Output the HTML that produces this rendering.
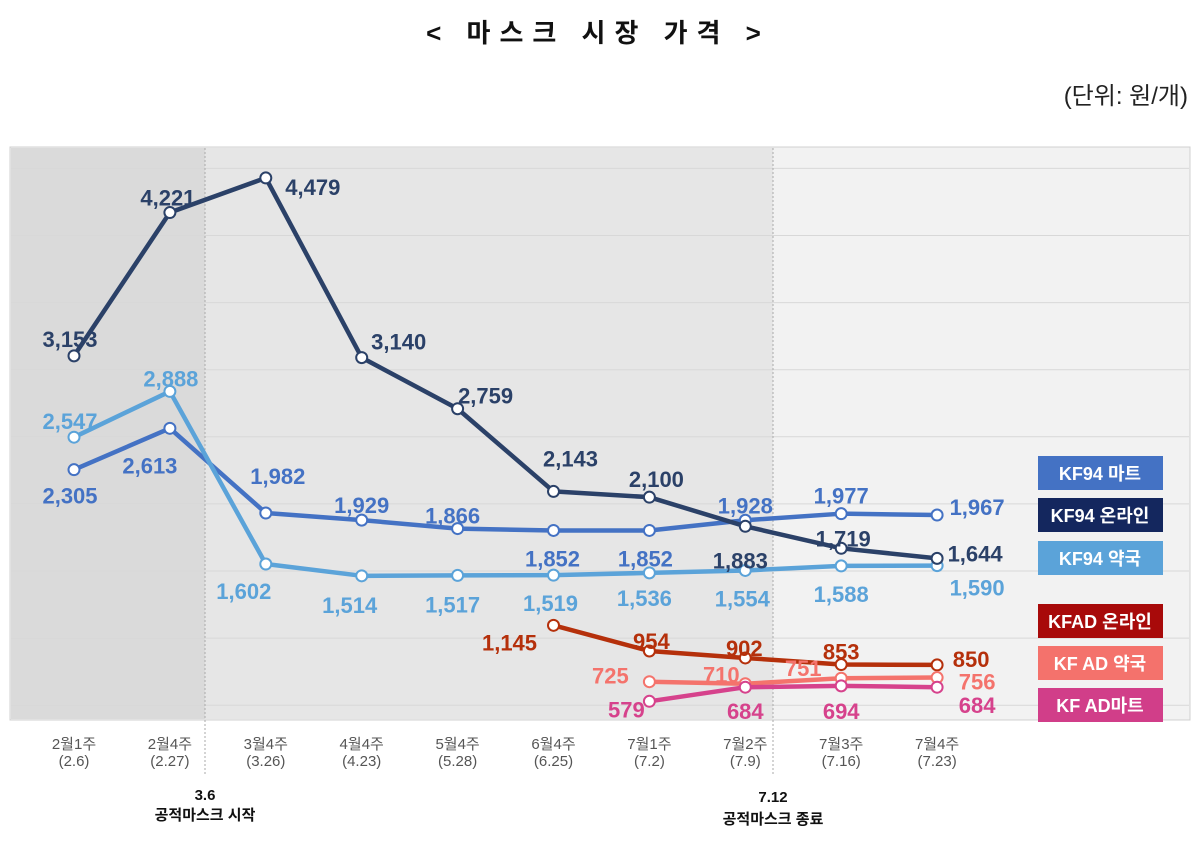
<!DOCTYPE html>
<html><head><meta charset="utf-8">
<style>
body{margin:0;background:#fff;width:1199px;height:845px;overflow:hidden;font-family:"Liberation Sans","Noto Sans CJK KR",sans-serif;}
svg text{font-family:"Liberation Sans","Noto Sans CJK KR",sans-serif;}
</style></head>
<body>
<svg id="chart" width="1199" height="845" xmlns="http://www.w3.org/2000/svg">
<text x="598" y="42" text-anchor="middle" font-size="26" font-weight="bold" letter-spacing="9" fill="#111">&lt; 마스크 시장 가격 &gt;</text>
<text x="1188" y="104" text-anchor="end" font-size="24" fill="#222">(단위: 원/개)</text>
<rect x="10" y="147" width="1180" height="573" fill="#f2f2f2" stroke="#d0d0d0"/>
<rect x="11" y="148" width="194" height="571" fill="#dadada"/>
<rect x="205" y="148" width="568" height="571" fill="#e6e6e6"/>
<g id="grid"></g>
<line x1="205" y1="148" x2="205" y2="775" stroke="#aaa" stroke-dasharray="2,2"/>
<line x1="773" y1="148" x2="773" y2="775" stroke="#aaa" stroke-dasharray="2,2"/>
<g id="series"></g>
<g id="xlabels"></g>
<text x="205" y="800" text-anchor="middle" font-size="15" font-weight="bold" fill="#111">3.6</text>
<text x="205" y="820" text-anchor="middle" font-size="15" font-weight="bold" fill="#111">공적마스크 시작</text>
<text x="773" y="802" text-anchor="middle" font-size="15" font-weight="bold" fill="#111">7.12</text>
<text x="773" y="824" text-anchor="middle" font-size="15" font-weight="bold" fill="#111">공적마스크 종료</text>
<g id="legend"></g>
</svg>
<script>
const categories=["2월1주","2월4주","3월4주","4월4주","5월4주","6월4주","7월1주","7월2주","7월3주","7월4주"];
const dates=["(2.6)","(2.27)","(3.26)","(4.23)","(5.28)","(6.25)","(7.2)","(7.9)","(7.16)","(7.23)"];
const kf94Online=[3153,4221,4479,3140,2759,2143,2100,1883,1719,1644];
const kf94Mart=[2305,2613,1982,1929,1866,1852,1852,1928,1977,1967];
const kf94Pharmacy=[2547,2888,1602,1514,1517,1519,1536,1554,1588,1590];
const kfadOnline=[null,null,null,null,null,1145,954,902,853,850];
const kfadPharmacy=[null,null,null,null,null,null,725,710,751,756];
const kfadMart=[null,null,null,null,null,null,579,684,694,684];
const gridValues=[550,1050,1550,2050,2550,3050,3550,4050,4550];

const NS="http://www.w3.org/2000/svg";
function xScale(i){return 74+i*95.9;}
function yScale(v){return 779-0.1342*v;}
function mk(tag,attrs,parent){const e=document.createElementNS(NS,tag);for(const k in attrs)e.setAttribute(k,attrs[k]);parent.appendChild(e);return e;}

const grid=document.getElementById('grid');
gridValues.forEach(v=>{
  const l=mk('line',{x1:11,x2:1189,y1:yScale(v),y2:yScale(v),stroke:'#d8d8d8','stroke-width':1},grid);
  
  
});

const seriesList=[
 {name:'kf94-mart',data:kf94Mart,color:'#4472c4',lab:[[-4,26],[-20,37],[12,-37],[0,-15],[-5,-13],[-1,28],[-4,28],[0,-15],[0,-18],[40,-8]]},
 {name:'kf94-pharmacy',data:kf94Pharmacy,color:'#5ba3d9',lab:[[-4,-16],[1,-13],[-22,27],[-12,29],[-5,29],[-3,28],[-5,25],[-3,28],[0,28],[40,22]]},
 {name:'kf94-online',data:kf94Online,color:'#2b4168',lab:[[-4,-17],[-2,-15],[47,9],[37,-16],[28,-13],[17,-33],[7,-18],[-5,34],[2,-10],[38,-5]]},
 {name:'kfad-online',data:kfadOnline,color:'#b5300b',lab:[[0,0],[0,0],[0,0],[0,0],[0,0],[-44,17],[2,-10],[-1,-10],[0,-13],[34,-6]]},
 {name:'kfad-pharmacy',data:kfadPharmacy,color:'#f4736c',lab:[[0,0],[0,0],[0,0],[0,0],[0,0],[0,0],[-39,-6],[-24,-9],[-38,-10],[40,4]]},
 {name:'kfad-mart',data:kfadMart,color:'#d6428c',lab:[[0,0],[0,0],[0,0],[0,0],[0,0],[0,0],[-23,8],[0,24],[0,25],[40,18]]}
];
const sg=document.getElementById('series');
seriesList.forEach(s=>{
  const g=mk('g',{},sg);
  
  
  const pts=[];s.data.forEach((v,i)=>{if(v!=null)pts.push([xScale(i),yScale(v),v,i]);});
  const pl=mk('polyline',{points:pts.map(p=>p[0]+','+p[1]).join(' '),fill:'none',stroke:s.color,'stroke-width':4.5,'stroke-linejoin':'round'},g);
  
  
  pts.forEach(p=>{
    const c=mk('circle',{cx:p[0],cy:p[1],r:5.5,fill:'#fff',stroke:s.color,'stroke-width':2},g);
    
    
    const o=s.lab[p[3]];
    const t=mk('text',{x:p[0]+o[0],y:p[1]+o[1]+8,'text-anchor':'middle','font-size':22,'font-weight':'bold',fill:s.color},g);
    t.textContent=p[2].toLocaleString('en-US');
    
    
  });
});

const xl=document.getElementById('xlabels');
categories.forEach((c,i)=>{
  const t=mk('text',{x:xScale(i),y:749,'text-anchor':'middle','font-size':15,fill:'#555'},xl);
  t.textContent=c;
  
  
  const d=mk('text',{x:xScale(i),y:766,'text-anchor':'middle','font-size':15,fill:'#555'},xl);
  d.textContent=dates[i];
  
  
});

const legendNames=["KF94 마트","KF94 온라인","KF94 약국","KFAD 온라인","KF AD 약국","KF AD마트"];
const legendColors=['#4472c4','#14275e','#5ba3d9','#a80a0a','#f4726c','#d13e89'];
const legendY=[456,498,541,604,646,688];
const lg=document.getElementById('legend');
legendNames.forEach((n,i)=>{
  const g=mk('g',{},lg);
  
  
  mk('rect',{x:1038,y:legendY[i],width:125,height:34,fill:legendColors[i]},g);
  const t=mk('text',{x:1100,y:legendY[i]+24,'text-anchor':'middle','font-size':18,'font-weight':'bold',fill:'#fff'},g);
  t.textContent=n;
});
</script>
</body></html>
